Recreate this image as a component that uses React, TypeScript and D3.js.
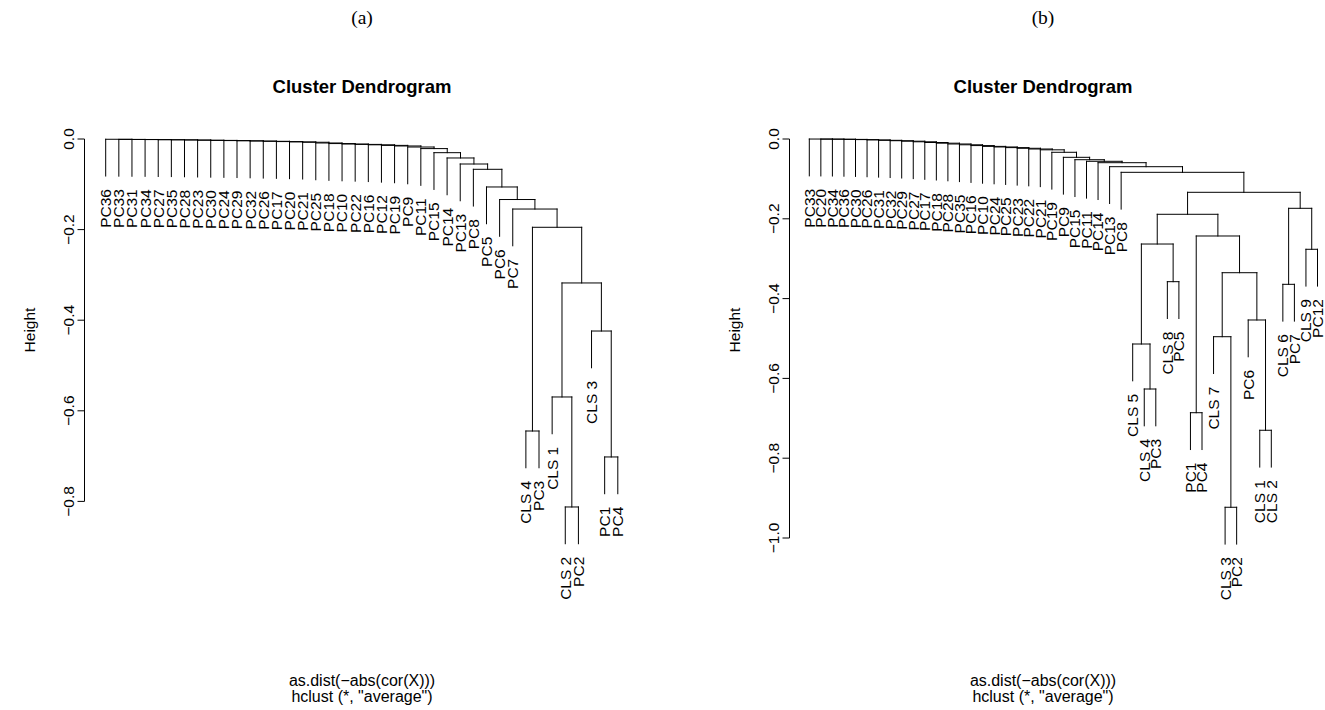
import React from 'react';
import * as d3 from 'd3';

// ---- Panel (a): leaves in plotting order, R-style merge matrix and merge heights ----
const leftLabels = [
  'PC36', 'PC33', 'PC31', 'PC34', 'PC27', 'PC35', 'PC28', 'PC23', 'PC30', 'PC24',
  'PC29', 'PC32', 'PC26', 'PC17', 'PC20', 'PC21', 'PC25', 'PC18', 'PC10', 'PC22',
  'PC16', 'PC12', 'PC19', 'PC9', 'PC11', 'PC15', 'PC14', 'PC13', 'PC8', 'PC5',
  'PC6', 'PC7', 'CLS 4', 'PC3', 'CLS 1', 'CLS 2', 'PC2', 'CLS 3', 'PC1', 'PC4',
];
const leftMerge: [number, number][] = [
  [-36, -37], [-39, -40], [-33, -34], [-35, 1], [-38, 2], [4, 5], [3, 6], [-32, 7],
  [-31, 8], [-30, 9], [-29, 10], [-28, 11], [-27, 12], [-26, 13], [-25, 14], [-24, 15],
  [-23, 16], [-22, 17], [-21, 18], [-20, 19], [-19, 20], [-18, 21], [-17, 22], [-16, 23],
  [-15, 24], [-14, 25], [-13, 26], [-12, 27], [-11, 28], [-10, 29], [-9, 30], [-8, 31],
  [-7, 32], [-6, 33], [-5, 34], [-4, 35], [-3, 36], [-2, 37], [-1, 38],
];
const leftHeight = [
  -0.8123, -0.7019, -0.6446, -0.5695, -0.4239, -0.3178, -0.1949, -0.1546,
  -0.1336, -0.1059, -0.0669, -0.0552, -0.0419, -0.0302, -0.0212, -0.0177,
  -0.0154, -0.0141, -0.0128, -0.0119, -0.0111, -0.0101, -0.0088, -0.0072,
  -0.0064, -0.0057, -0.0051, -0.0045, -0.0039, -0.0035, -0.0031, -0.0027,
  -0.0022, -0.0018, -0.0016, -0.0013, -0.0011, -0.0009, -0.0006,
];
const leftTicks = [0, -0.2, -0.4, -0.6, -0.8];

// ---- Panel (b) ----
const rightLabels = [
  'PC33', 'PC20', 'PC34', 'PC36', 'PC30', 'PC26', 'PC31', 'PC32', 'PC29', 'PC27',
  'PC17', 'PC18', 'PC28', 'PC35', 'PC16', 'PC10', 'PC24', 'PC25', 'PC23', 'PC22',
  'PC21', 'PC19', 'PC9', 'PC15', 'PC11', 'PC14', 'PC13', 'PC8', 'CLS 5', 'CLS 4',
  'PC3', 'CLS 8', 'PC5', 'PC1', 'PC4', 'CLS 7', 'CLS 3', 'PC2', 'PC6', 'CLS 1',
  'CLS 2', 'CLS 6', 'PC7', 'CLS 9', 'PC12',
];
const rightMerge: [number, number][] = [
  [-37, -38], [-40, -41], [-34, -35], [-30, -31], [-29, 4], [-36, 1], [-39, 2], [-42, -43],
  [-32, -33], [6, 7], [-44, -45], [5, 9], [3, 10], [12, 13], [8, 11], [14, 15],
  [-28, 16], [-27, 17], [-26, 18], [-25, 19], [-24, 20], [-23, 21], [-22, 22], [-21, 23],
  [-20, 24], [-19, 25], [-18, 26], [-17, 27], [-16, 28], [-15, 29], [-14, 30], [-13, 31],
  [-12, 32], [-11, 33], [-10, 34], [-9, 35], [-8, 36], [-7, 37], [-6, 38], [-5, 39],
  [-4, 40], [-3, 41], [-2, 42], [-1, 43],
];
const rightHeight = [
  -0.923, -0.73, -0.686, -0.6266, -0.5138, -0.4955, -0.4536, -0.3642,
  -0.3576, -0.3351, -0.2764, -0.2632, -0.2431, -0.1887, -0.1737, -0.1336,
  -0.0835, -0.0694, -0.0594, -0.0559, -0.0519, -0.0459, -0.0333, -0.0271,
  -0.0251, -0.0233, -0.0216, -0.02, -0.0185, -0.0165, -0.0145, -0.0125,
  -0.0105, -0.0088, -0.007, -0.0055, -0.0043, -0.0033, -0.0023, -0.0015,
  -0.001, -0.0005, -0.0003, -0.0001,
];
const rightTicks = [0, -0.2, -0.4, -0.6, -0.8, -1.0];

const SANS = "'Liberation Sans', Arial, Helvetica, sans-serif";
const SERIF = "'Liberation Serif', 'DejaVu Serif', serif";
const fmt = d3.format('.1f');

type Seg = [number, number, number, number];
type Leaf = { label: string; x: number; y: number };

// Rectangular dendrogram layout in the style of plot.hclust (hang = 0.1)
function buildTree(labels: string[], merge: [number, number][], height: number[], hang = 0.1) {
  const hangH = hang * ((d3.max(height) as number) - (d3.min(height) as number));
  const nodeX: number[] = [];
  const segs: Seg[] = [];
  const leaves: Leaf[] = [];
  merge.forEach(([a, b], i) => {
    const h = height[i];
    const child = (c: number) => {
      if (c < 0) {
        const leaf = { label: labels[-c - 1], x: -c, y: h - hangH };
        leaves.push(leaf);
        return { x: leaf.x, y: leaf.y };
      }
      return { x: nodeX[c - 1], y: height[c - 1] };
    };
    const ca = child(a);
    const cb = child(b);
    nodeX[i] = (ca.x + cb.x) / 2;
    segs.push([ca.x, ca.y, ca.x, h], [ca.x, h, cb.x, h], [cb.x, h, cb.x, cb.y]);
  });
  return { segs, leaves };
}

type PanelProps = {
  tag: string;
  labels: string[];
  merge: [number, number][];
  height: number[];
  ticks: number[];
  xRange: [number, number];
  yRange: [number, number];
  axisX: number;
  textX: number;
};

function Panel({ tag, labels, merge, height, ticks, xRange, yRange, axisX, textX }: PanelProps) {
  const x = d3.scaleLinear().domain([1, labels.length]).range(xRange);
  const y = d3.scaleLinear().domain([0, ticks[ticks.length - 1]]).range(yRange);
  const { segs, leaves } = buildTree(labels, merge, height);
  const midY = 330;
  return (
    <g>
      <text x={textX} y={24} textAnchor="middle" fontFamily={SERIF} fontSize={19.5}>{tag}</text>
      <text x={textX} y={93} textAnchor="middle" fontFamily={SANS} fontSize={18.5} fontWeight="bold">
        Cluster Dendrogram
      </text>
      {segs.map((s, i) => (
        <line key={i} x1={x(s[0])} y1={y(s[1])} x2={x(s[2])} y2={y(s[3])}
          stroke="#000" strokeWidth={1} strokeLinecap="square" />
      ))}
      {leaves.map((l, i) => (
        <text key={i} transform={`translate(${x(l.x)},${y(l.y) + 13}) rotate(-90)`}
          textAnchor="end" dy="0.35em" fontFamily={SANS} fontSize={15.5}>{l.label}</text>
      ))}
      <line x1={axisX} x2={axisX} y1={y(ticks[0])} y2={y(ticks[ticks.length - 1])} stroke="#000" strokeWidth={1} />
      {ticks.map((t) => (
        <g key={t}>
          <line x1={axisX - 7} x2={axisX} y1={y(t)} y2={y(t)} stroke="#000" strokeWidth={1} />
          <text transform={`translate(${axisX - 10.5},${y(t)}) rotate(-90)`} textAnchor="middle"
            fontFamily={SANS} fontSize={15.5}>{fmt(t)}</text>
        </g>
      ))}
      <text transform={`translate(${axisX - 50},${midY}) rotate(-90)`} textAnchor="middle"
        fontFamily={SANS} fontSize={15.5}>Height</text>
      <text x={textX} y={686} textAnchor="middle" fontFamily={SANS} fontSize={16}>
        as.dist(−abs(cor(X)))
      </text>
      <text x={textX} y={702} textAnchor="middle" fontFamily={SANS} fontSize={16}>
        hclust (*, "average")
      </text>
    </g>
  );
}

export default function App() {
  return (
    <svg width={1325} height={710} viewBox="0 0 1325 710"
      style={{ position: 'absolute', left: 0, top: 0, background: '#fff' }}>
      <rect width={1325} height={710} fill="#fff" />
      <Panel tag="(a)" labels={leftLabels} merge={leftMerge} height={leftHeight} ticks={leftTicks}
        xRange={[105.7, 617.8]} yRange={[139, 501.4]} axisX={84.5} textX={362} />
      <Panel tag="(b)" labels={rightLabels} merge={rightMerge} height={rightHeight} ticks={rightTicks}
        xRange={[809.3, 1317.5]} yRange={[139, 538]} axisX={789.5} textX={1043} />
    </svg>
  );
}
